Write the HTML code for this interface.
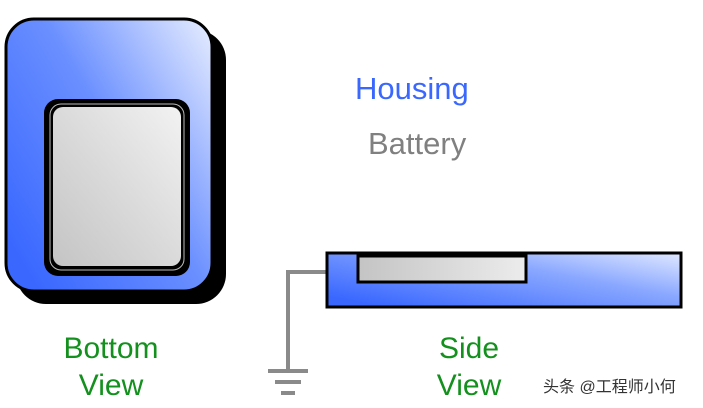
<!DOCTYPE html>
<html><head><meta charset="utf-8"><style>
body{margin:0;background:#fff;width:703px;height:408px;overflow:hidden}
svg{display:block}
text{font-family:"Liberation Sans",Arial,sans-serif}
</style></head><body>
<svg width="703" height="408" viewBox="0 0 703 408">
<defs>
<linearGradient id="hb" x1="0" y1="0.8" x2="1" y2="0">
<stop offset="0" stop-color="#3a68ff"/><stop offset="0.5" stop-color="#6a8fff"/><stop offset="1" stop-color="#e8eeff"/>
</linearGradient>
<linearGradient id="gb" x1="0" y1="1" x2="1" y2="0">
<stop offset="0" stop-color="#c4c4c4"/><stop offset="0.5" stop-color="#dadada"/><stop offset="1" stop-color="#f2f2f2"/>
</linearGradient>
<linearGradient id="sb" x1="0" y1="0.8" x2="1" y2="0">
<stop offset="0" stop-color="#3a68ff"/><stop offset="0.6" stop-color="#8aa8ff"/><stop offset="1" stop-color="#e0e8ff"/>
</linearGradient>
<linearGradient id="sg" x1="0" y1="0" x2="1" y2="0">
<stop offset="0" stop-color="#c4c4c4"/><stop offset="1" stop-color="#ececec"/>
</linearGradient>
</defs>
<rect x="16" y="30" width="210" height="274" rx="30" fill="#000"/>
<rect x="6" y="19" width="206" height="272" rx="28" fill="url(#hb)" stroke="#000" stroke-width="3"/>
<rect x="44" y="99" width="146" height="177" rx="14" fill="#000"/>
<rect x="50" y="104" width="134" height="166" rx="11" fill="none" stroke="#bbb" stroke-width="1"/>
<rect x="53" y="107" width="128" height="159" rx="10" fill="url(#gb)"/>
<polyline points="327,272 288,272 288,371" fill="none" stroke="#8a8a8a" stroke-width="4"/>
<line x1="268" y1="371" x2="308" y2="371" stroke="#8a8a8a" stroke-width="4"/>
<line x1="275" y1="382" x2="301" y2="382" stroke="#8a8a8a" stroke-width="4"/>
<line x1="281" y1="393" x2="295" y2="393" stroke="#8a8a8a" stroke-width="4"/>
<rect x="327" y="253" width="354" height="54" fill="url(#sb)" stroke="#000" stroke-width="3"/>
<rect x="358" y="256" width="168" height="26" fill="url(#sg)" stroke="#000" stroke-width="3"/>
<text x="355" y="99" font-size="31" fill="#3a68ff">Housing</text>
<text x="368" y="154" font-size="31" fill="#808080">Battery</text>
<text x="111" y="358" font-size="30" fill="#14901e" text-anchor="middle">Bottom</text>
<text x="111" y="395" font-size="30" fill="#14901e" text-anchor="middle">View</text>
<text x="469" y="358" font-size="30" fill="#14901e" text-anchor="middle">Side</text>
<text x="469" y="395" font-size="30" fill="#14901e" text-anchor="middle">View</text>
<text x="543" y="392" font-size="16" fill="#333" style='font-family:"Liberation Sans","Noto Sans CJK SC",sans-serif'>头条 @工程师小何</text>
</svg>
</body></html>
